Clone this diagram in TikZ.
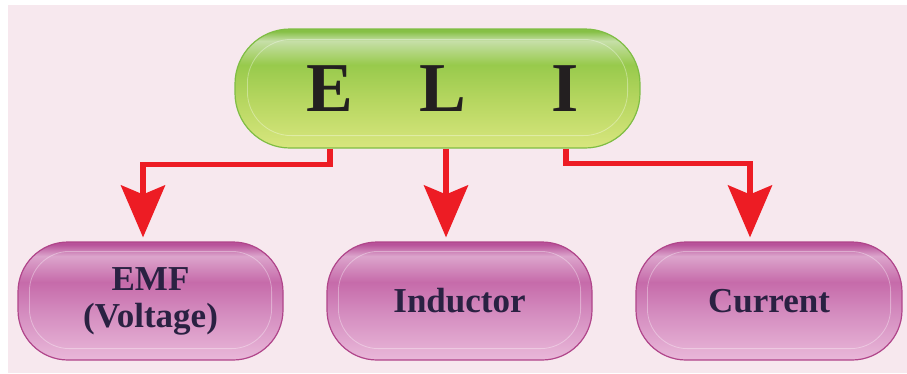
\documentclass[tikz,border=0pt]{standalone}
\usepackage{fontspec}
\setmainfont{Liberation Serif}
\usetikzlibrary{arrows.meta}
\definecolor{bg}{HTML}{F7E8EE}
\definecolor{arrowred}{HTML}{ED1C24}
\definecolor{g0}{HTML}{86C046}
\definecolor{g1}{HTML}{C6DFA8}
\definecolor{g2}{HTML}{98CA4C}
\definecolor{g3}{HTML}{B6D660}
\definecolor{g4}{HTML}{D8E67E}
\definecolor{p0}{HTML}{B8539A}
\definecolor{p1}{HTML}{DCA5CC}
\definecolor{p2}{HTML}{C66BAA}
\definecolor{p3}{HTML}{D48CBF}
\definecolor{p4}{HTML}{E9B8D9}
\definecolor{gborder}{HTML}{7FBD44}
\definecolor{pborder}{HTML}{B0458A}
\definecolor{inktxt}{HTML}{231F20}
\definecolor{navytxt}{HTML}{2A2142}
\pgfdeclareverticalshading{greenglossy}{100bp}{color(0bp)=(g4); color(25bp)=(g4); color(45bp)=(g3); color(60bp)=(g2); color(70bp)=(g1); color(74bp)=(g0); color(100bp)=(g0)}
\pgfdeclareverticalshading{pinkglossy}{100bp}{color(0bp)=(p4); color(25bp)=(p4); color(45bp)=(p3); color(58bp)=(p2); color(69bp)=(p1); color(74bp)=(p0); color(100bp)=(p0)}
\tikzset{
  greenbox/.style={rectangle, rounded corners=55pt, shading=greenglossy, draw=gborder, line width=1.2pt,
    minimum width=405pt, minimum height=119pt, inner sep=0pt, text=inktxt,
    font=\fontsize{70}{80}\selectfont\bfseries},
  pinkbox/.style={rectangle, rounded corners=50pt, shading=pinkglossy, draw=pborder, line width=1.2pt,
    minimum width=265pt, minimum height=118pt, inner sep=0pt, text=navytxt, align=center,
    font=\fontsize{35}{37}\selectfont\bfseries},
  glint/.style={draw=white, draw opacity=0.35, line width=0.8pt},
  conn/.style={draw=arrowred, line width=5.5pt, line join=miter,
    -{Stealth[length=52pt, width=44pt, inset=9pt]}, shorten >=4pt}
}
\begin{document}
\begin{tikzpicture}[x=1pt, y=-1pt]
\useasboundingbox (0,0) rectangle (907,373);
\fill[bg] (8,5) rectangle (907,373);
\node[greenbox] (eli) at (437.5,88.5) {\hspace*{20pt}\makebox[0pt]{E}\hspace{113pt}\makebox[0pt]{L}\hspace{122pt}\makebox[0pt]{I}};
\node[pinkbox] (emf) at (150.5,301) {EMF\\(Voltage)};
\node[pinkbox] (ind) at (459.5,301) {Inductor};
\node[pinkbox, minimum width=266pt] (cur) at (769,301) {Current};
\foreach \n in {emf,ind,cur}{
  \draw[glint, rounded corners=40pt] ([xshift=12pt,yshift=-10pt]\n.north west) rectangle ([xshift=-12pt,yshift=12pt]\n.south east);
}
\draw[glint, rounded corners=44pt] ([xshift=13pt,yshift=-11pt]eli.north west) rectangle ([xshift=-13pt,yshift=13pt]eli.south east);
\coordinate (s1) at (330,0);
\coordinate (s2) at (446,0);
\coordinate (s3) at (566,0);
\coordinate (t1) at (143,0);
\coordinate (t3) at (750,0);
\draw[conn] (eli.south -| s1) -- ++(0,16) -| (emf.north -| t1);
\draw[conn] (eli.south -| s2) -- (ind.north -| s2);
\draw[conn] (eli.south -| s3) -- ++(0,15) -| (cur.north -| t3);
\end{tikzpicture}
\end{document}
